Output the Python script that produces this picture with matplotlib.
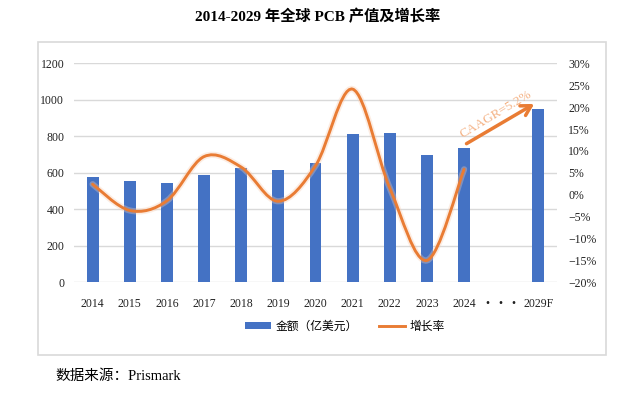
# 2014-2029 global PCB output value and growth rate (bars + smoothed line)

import matplotlib
matplotlib.use('Agg')
import matplotlib.pyplot as plt
from matplotlib.path import Path
from matplotlib.patches import PathPatch, Patch, Rectangle
from matplotlib.lines import Line2D

plt.rcParams['font.family'] = ['Liberation Serif', 'Noto Sans CJK SC']
plt.rcParams['axes.unicode_minus'] = True

# data
categories = ['2014', '2015', '2016', '2017', '2018', '2019', '2020',
              '2021', '2022', '2023', '2024', '•   •   •', '2029F']
values = [575, 553, 542, 589, 624, 613, 652, 810, 817, 695, 737, None, 947]
growth_years = list(range(11))  # 2014..2024 positions
growth = [2.4, -3.6, -1.4, 8.7, 6.3, -1.5, 6.6, 24.1, 1.5, -15.0, 5.8]
left_ticks = [0, 200, 400, 600, 800, 1000, 1200]
right_ticks = [-20, -15, -10, -5, 0, 5, 10, 15, 20, 25, 30]

BLUE = '#4472C4'
ORANGE = '#E97C34'

fig = plt.figure(figsize=(6.4, 3.93), dpi=100)
fig.patch.set_facecolor('white')

# chart frame
fig.add_artist(Rectangle((38 / 640, 1 - 355 / 393), (606 - 38) / 640, (355 - 42) / 393,
                         transform=fig.transFigure, facecolor='none',
                         edgecolor='#D9D9D9', lw=1.2))

ax = fig.add_axes([74 / 640, 1 - 282.3 / 393, 483 / 640, 219 / 393])
ax2 = ax.twinx()

xs = list(range(len(categories)))
bar_x = [x for x, v in zip(xs, values) if v is not None]
bar_v = [v for v in values if v is not None]
ax.bar(bar_x, bar_v, width=0.32, color=BLUE, zorder=2)

ax.set_xlim(-0.5, len(categories) - 0.5)
ax.set_ylim(0, 1200)
ax.set_yticks(left_ticks)
ax.set_xticks(xs)
ax.set_xticklabels(categories)
ax.grid(axis='y', color='#D9D9D9', lw=1)
ax.set_axisbelow(True)
for s in ax.spines.values():
    s.set_visible(False)
for s in ax2.spines.values():
    s.set_visible(False)
ax.tick_params(axis='both', length=0, labelsize=8.5, colors='#222222')
ax.tick_params(axis='x', pad=11)
ax.tick_params(axis='y', pad=7)

ax2.set_ylim(-20, 30)
ax2.set_yticks(right_ticks)
ax2.set_yticklabels([('−%d%%' % -t) if t < 0 else ('%d%%' % t) for t in right_ticks])
ax2.tick_params(axis='y', length=0, labelsize=8.5, colors='#222222', pad=8)

# smoothed growth line, Excel-style cubic bezier through the points
pts = list(zip(growth_years, growth))
verts = [pts[0]]
codes = [Path.MOVETO]
n = len(pts)
for i in range(n - 1):
    p0 = pts[max(i - 1, 0)]
    p1 = pts[i]
    p2 = pts[i + 1]
    p3 = pts[min(i + 2, n - 1)]
    c1 = (p1[0] + (p2[0] - p0[0]) / 6, p1[1] + (p2[1] - p0[1]) / 6)
    c2 = (p2[0] - (p3[0] - p1[0]) / 6, p2[1] - (p3[1] - p1[1]) / 6)
    verts += [c1, c2, p2]
    codes += [Path.CURVE4] * 3
curve = Path(verts, codes)
ax2.add_patch(PathPatch(curve, facecolor='none', edgecolor='#F8CBAD', lw=4.5,
                        alpha=0.35, capstyle='round', zorder=3))
ax2.add_patch(PathPatch(curve, facecolor='none', edgecolor=ORANGE, lw=2.1,
                        capstyle='round', zorder=4))

# CAGR arrow
ax.annotate('', xy=(11.95, 985), xytext=(10.0, 752),
            arrowprops=dict(arrowstyle='->,head_length=0.7,head_width=0.4',
                            color=ORANGE, lw=2.5), zorder=5)
ax.text(10.85, 918, 'CAAGR=5.2%', rotation=31, color='#F4B183', fontsize=9.5,
        ha='center', va='center', zorder=5)

# legend
handles = [Patch(facecolor=BLUE, edgecolor='none'),
           Line2D([0], [0], color=ORANGE, lw=2.1)]
fig.legend(handles, ['金额（亿美元）', '增长率'], loc='center',
           bbox_to_anchor=(345 / 640, 1 - 327 / 393), ncol=2, frameon=False,
           fontsize=8.5, handlelength=2.2, handleheight=0.5, columnspacing=1.8,
           handletextpad=0.4)

fig.text(318 / 640, 1 - 17 / 393, '2014-2029 年全球 PCB 产值及增长率',
         ha='center', va='center', fontsize=11, fontweight='bold')
fig.text(55 / 640, 1 - 376 / 393, '数据来源：Prismark', ha='left', va='center',
         fontsize=10.5)

fig.savefig('out.png', dpi=100)
